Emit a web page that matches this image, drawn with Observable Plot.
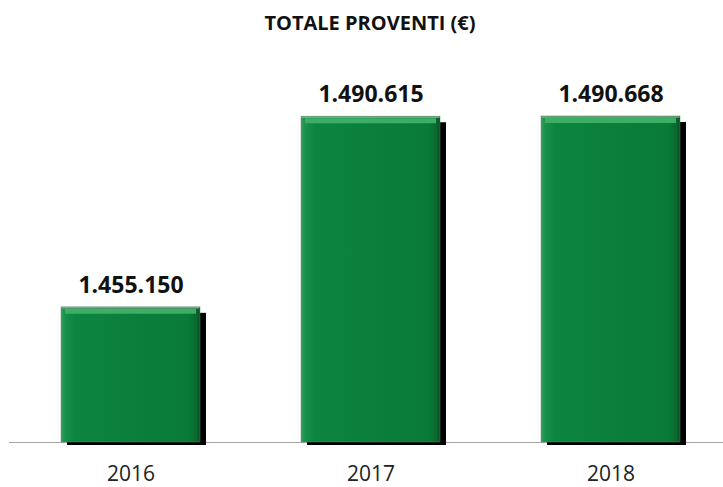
<!DOCTYPE html>
<html>
<head>
<meta charset="utf-8">
<script src="https://cdn.jsdelivr.net/npm/d3@7"></script>
<script src="https://cdn.jsdelivr.net/npm/@observablehq/plot@0.6"></script>
<style>
  html, body { margin: 0; padding: 0; background: #fff; }
  #title { height: 45px; line-height: 45px; text-align: center; padding-left: 17px; box-sizing: border-box;
           font-family: "Open Sans", sans-serif; font-weight: bold; font-size: 20px; color: #111; width: 723px; }
</style>
</head>
<body>
<div id="title">TOTALE PROVENTI (€)</div>
<div id="chart"></div>
<script>
const years = ["2016", "2017", "2018"];
const values = [1455150, 1490615, 1490668];
const yDomain = [1430000, 1495500];

const data = years.map((year, i) => ({year, value: values[i]}));
const base = yDomain[0];
const fmt = d3.formatLocale({decimal: ",", thousands: ".", grouping: [3], currency: ["", "€"]}).format(",");

const chart = Plot.plot({
  width: 723,
  height: 442,
  marginLeft: 9,
  marginRight: 0,
  marginTop: 45,
  marginBottom: 45,
  style: {fontFamily: "Open Sans, sans-serif", background: "white"},
  x: {domain: years, paddingInner: 0.42, paddingOuter: 0.193, align: 0.55, label: null},
  y: {domain: yDomain, axis: null},
  marks: [
    Plot.ruleY([base], {stroke: "#a6a6a6", strokeWidth: 1}),
    Plot.barY(data, {x: "year", y1: base, y2: "value", fill: "#000", dx: 6, dy: 6, insetBottom: 3}),
    Plot.barY(data, {x: "year", y1: base, y2: "value", fill: "url(#barGrad)", stroke: "#5f8f6a", strokeWidth: 0.8, strokeOpacity: 0.6}),
    Plot.tickY(data, {x: "year", y: "value", stroke: "#3cae66", strokeWidth: 5, dy: 4, inset: 4}),
    Plot.tickY(data, {x: "year", y: "value", stroke: "#7fa387", strokeWidth: 1.5, dy: 0.5, inset: 0.5}),
    Plot.text(data, {x: "year", y: "value", text: d => fmt(d.value), dy: -22, fontSize: 23, fontWeight: "bold", fill: "#111"}),
    Plot.axisX({tickSize: 0, tickPadding: 24, fontSize: 21, label: null, fill: "#222"})
  ]
});

const svg = d3.select(chart);
const defs = svg.insert("defs", ":first-child");
const g = defs.append("linearGradient").attr("id", "barGrad").attr("x1", 0).attr("x2", 1).attr("y1", 0).attr("y2", 0);
[[0, "#3a9f5e"], [0.03, "#17904a"], [0.1, "#0c8541"], [0.5, "#0b7f3c"], [0.92, "#0a7a39"], [0.97, "#086a30"], [1, "#064f24"]]
  .forEach(([o, c]) => g.append("stop").attr("offset", o).attr("stop-color", c));

document.getElementById("chart").appendChild(chart);
</script>
</body>
</html>
